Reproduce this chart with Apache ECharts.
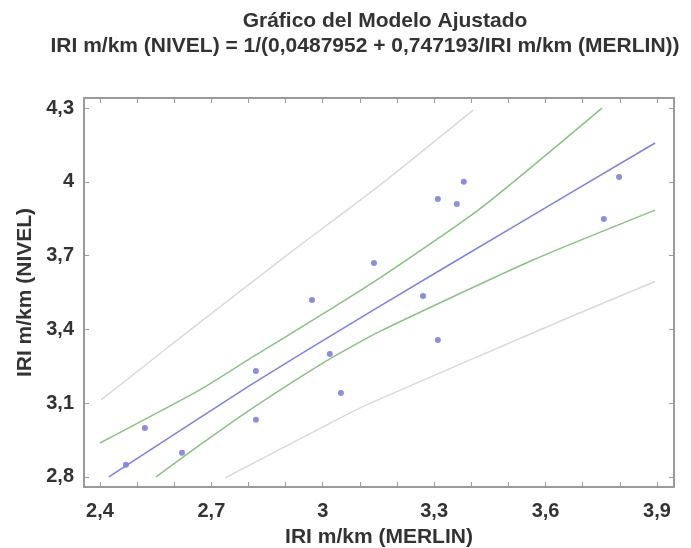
<!DOCTYPE html>
<html>
<head>
    <meta charset="utf-8" />
    <script src="https://cdn.jsdelivr.net/npm/echarts@6/dist/echarts.min.js"></script>
    <style>
        html, body { margin: 0; padding: 0; background: #fff; }
        #chart { width: 691px; height: 548px; }
    </style>
</head>
<body>
<div id="chart"></div>
<script type="text/javascript">
    // observaciones (MERLIN, NIVEL)
    var puntosX = [2.470, 2.521, 2.621, 2.820, 2.820, 2.971, 3.019, 3.049, 3.138, 3.270, 3.310, 3.310, 3.361, 3.380, 3.757, 3.798];
    var puntosY = [2.849, 2.999, 2.898, 3.231, 3.032, 3.520, 3.300, 3.141, 3.670, 3.536, 3.930, 3.357, 3.910, 4.000, 3.849, 4.020];

    // modelo ajustado
    var ajusteX = [2.424, 2.807, 3.154, 3.512, 3.895];
    var ajusteY = [2.800, 3.175, 3.495, 3.816, 4.158];

    // limites de confianza
    var confSupX = [2.400, 2.669, 2.807, 3.019, 3.154, 3.423, 3.752];
    var confSupY = [2.938, 3.154, 3.284, 3.480, 3.609, 3.890, 4.300];
    var confInfX = [2.551, 2.669, 2.807, 3.019, 3.154, 3.566, 3.895];
    var confInfY = [2.800, 2.930, 3.076, 3.280, 3.392, 3.682, 3.885];

    // limites de prediccion
    var predSupX = [2.403, 2.650, 2.922, 3.154, 3.405];
    var predSupY = [3.113, 3.406, 3.723, 3.987, 4.292];
    var predInfX = [2.737, 3.019, 3.119, 3.647, 3.895];
    var predInfY = [2.796, 3.018, 3.094, 3.438, 3.595];

    var xTicks = [2.4, 2.5, 2.6, 2.7, 2.8, 2.9, 3.0, 3.1, 3.2, 3.3, 3.4, 3.5, 3.6, 3.7, 3.8, 3.9];
    var xLabels = [2.4, 2.7, 3.0, 3.3, 3.6, 3.9];
    var yLabels = [2.8, 3.1, 3.4, 3.7, 4.0, 4.3];

    function pares(xs, ys) {
        var out = [];
        for (var i = 0; i < xs.length; i++) {
            out.push([xs[i], ys[i]]);
        }
        return out;
    }

    function coma(v) {
        return String(Math.round(v * 10) / 10).replace('.', ',');
    }

    var fuente = 'Liberation Sans, Arial, sans-serif';
    var colorEje = '#9a9a9a';
    var colorTexto = '#333';

    function ejeX(pos, conEtiquetas) {
        return {
            type: 'value', position: pos, min: 2.357, max: 3.946,
            name: conEtiquetas ? 'IRI m/km (MERLIN)' : '',
            nameLocation: 'middle', nameGap: 40, nameMoveOverlap: false,
            nameTextStyle: { fontFamily: fuente, fontSize: 21, fontWeight: 'bold', color: colorTexto },
            axisLine: { show: true, lineStyle: { color: colorEje, width: 2 } },
            axisTick: { show: true, inside: true, length: 5, customValues: xTicks, lineStyle: { color: colorEje } },
            axisLabel: {
                show: conEtiquetas, customValues: xLabels, margin: 14, formatter: coma,
                fontFamily: fuente, fontSize: 20, fontWeight: 'bold', color: colorTexto
            },
            splitLine: { show: false }
        };
    }

    function ejeY(pos, conEtiquetas) {
        return {
            type: 'value', position: pos, min: 2.759, max: 4.341,
            name: conEtiquetas ? 'IRI m/km (NIVEL)' : '',
            nameLocation: 'middle', nameGap: 48, nameRotate: 90,
            nameTextStyle: { fontFamily: fuente, fontSize: 21, fontWeight: 'bold', color: colorTexto },
            axisLine: { show: true, lineStyle: { color: colorEje, width: 2 } },
            axisTick: { show: true, inside: true, length: 5, customValues: yLabels, lineStyle: { color: colorEje } },
            axisLabel: {
                show: conEtiquetas, customValues: yLabels, margin: 10, formatter: coma,
                fontFamily: fuente, fontSize: 20, fontWeight: 'bold', color: colorTexto
            },
            splitLine: { show: false }
        };
    }

    function linea(nombre, xs, ys, color) {
        return {
            name: nombre, type: 'line', data: pares(xs, ys),
            smooth: 0.2,
            showSymbol: false, silent: true,
            lineStyle: { color: color, width: 1.5 }
        };
    }

    var chart = echarts.init(document.getElementById('chart'));
    chart.setOption({
        animation: false,
        backgroundColor: '#fff',
        title: [
            {
                text: 'Gráfico del Modelo Ajustado', left: 380, top: 6, textAlign: 'center',
                textStyle: { fontFamily: fuente, fontSize: 21, fontWeight: 'bold', color: colorTexto }
            },
            {
                text: 'IRI m/km (NIVEL) = 1/(0,0487952 + 0,747193/IRI m/km (MERLIN))', left: 360, top: 31, textAlign: 'center',
                textStyle: { fontFamily: fuente, fontSize: 21, fontWeight: 'bold', color: colorTexto }
            }
        ],
        grid: { left: 84, right: 17, top: 98, bottom: 61, outerBoundsMode: 'none' },
        xAxis: [ejeX('bottom', true), ejeX('top', false)],
        yAxis: [ejeY('left', true), ejeY('right', false)],
        series: [
            linea('prediccion sup', predSupX, predSupY, '#d9d9d9'),
            linea('prediccion inf', predInfX, predInfY, '#d9d9d9'),
            linea('confianza sup', confSupX, confSupY, '#8fbf88'),
            linea('confianza inf', confInfX, confInfY, '#8fbf88'),
            linea('ajuste', ajusteX, ajusteY, '#7f7fe8'),
            {
                name: 'observado', type: 'scatter', data: pares(puntosX, puntosY),
                symbol: 'circle', symbolSize: 6,
                itemStyle: { color: '#7070d8' }
            }
        ]
    });
</script>
</body>
</html>
